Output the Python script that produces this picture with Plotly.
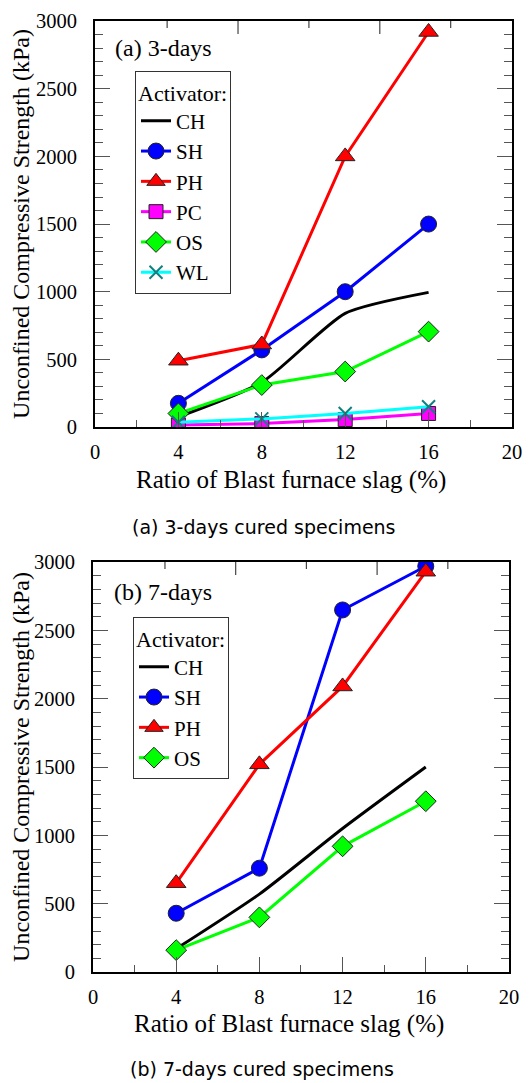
import plotly.graph_objects as go

# ---------------- data ----------------
slag = [4, 8, 12, 16]

# (a) 3-days
ch_3 = [75, 330, 840, 995]
sh_3 = [175, 570, 1000, 1500]
ph_3 = [490, 610, 2000, 2920]
pc_3 = [15, 25, 55, 100]
os_3 = [100, 310, 410, 705]
wl_3 = [35, 60, 100, 150]

# (b) 7-days
ch_7 = [170, 570, 1050, 1500]
sh_7 = [430, 760, 2650, 2970]
ph_7 = [650, 1520, 2090, 2930]
os_7 = [160, 400, 920, 1250]

# extra tick marks drawn along the top frame in the original figure
top_major = [6.86, 13.66]
top_minor = [3.46, 10.26, 17.06]

# page body has an 8px default margin: figure is placed at (8, 8)
OFF = 8
W, H = 532 - OFF, 1083 - OFF
SERIF = "Liberation Serif, Times New Roman, serif"

def px(x):
    return (x - OFF) / W

def py(y):
    return 1 - (y - OFF) / H

fig = go.Figure()

def add(x, y, name, color, symbol, xa, ya, legend, msize=15, mline="#222", spline=False, mlw=1):
    mode = "lines" if symbol is None else "lines+markers"
    fig.add_trace(go.Scatter(
        x=x, y=y, name=name, mode=mode, xaxis=xa, yaxis=ya, legend=legend,
        line=dict(color=color, width=3, shape="spline" if spline else "linear", smoothing=0.6),
        marker=dict(symbol=symbol or "circle", size=msize, color=color,
                    line=dict(color=mline, width=mlw)),
    ))

# top panel
add(slag, ch_3, "CH", "#000000", None, "x", "y", "legend", spline=True)
add(slag, sh_3, "SH", "#0000FF", "circle", "x", "y", "legend", msize=16)
add(slag, ph_3, "PH", "#FF0000", "triangle-up", "x", "y", "legend", msize=17)
add(slag, pc_3, "PC", "#FF00FF", "square", "x", "y", "legend", msize=14)
add(slag, os_3, "OS", "#00FF00", "diamond", "x", "y", "legend", msize=16)
add(slag, wl_3, "WL", "#00FFFF", "x-thin", "x", "y", "legend", msize=13, mline="#108080", mlw=2)

# bottom panel
add(slag, ch_7, "CH", "#000000", None, "x2", "y2", "legend2", spline=True)
add(slag, sh_7, "SH", "#0000FF", "circle", "x2", "y2", "legend2", msize=16)
add(slag, ph_7, "PH", "#FF0000", "triangle-up", "x2", "y2", "legend2", msize=17)
add(slag, os_7, "OS", "#00FF00", "diamond", "x2", "y2", "legend2", msize=16)

tickfont = dict(family=SERIF, size=20.5, color="#000")

def xaxis(domain, anchor):
    return dict(
        type="linear", domain=domain, anchor=anchor, range=[0, 20.001], tickmode="linear", tick0=0, dtick=4,
        ticks="inside", ticklen=15, tickwidth=1, tickcolor="#555",
        minor=dict(dtick=2, tick0=0, ticks="inside", ticklen=7, tickcolor="#555", tickwidth=1),
        showline=True, linecolor="#000", linewidth=2, mirror=True,
        showgrid=False, zeroline=False, tickfont=tickfont, automargin=False,
        ticklabelstandoff=5, ticklabeloverflow="allow",
    )

def yaxis(domain, anchor):
    return dict(
        type="linear", domain=domain, anchor=anchor, range=[0, 3001], tickmode="linear", tick0=0, dtick=500,
        ticks="inside", ticklen=15, tickwidth=1, tickcolor="#555",
        minor=dict(dtick=100, tick0=0, ticks="inside", ticklen=8, tickcolor="#555", tickwidth=1),
        showline=True, linecolor="#000", linewidth=2, mirror="ticks",
        showgrid=False, zeroline=False, tickfont=tickfont, automargin=False,
        ticklabelstandoff=12, ticklabeloverflow="allow",
        title=dict(text="Unconfined Compressive Strength (kPa)", font=dict(family=SERIF, size=24, color="#000"), standoff=5),
    )

xa1 = [px(95), px(512)]
ya1 = [py(427), py(21)]
xa2 = [px(93), px(509)]
ya2 = [py(972), py(562)]

# top-frame tick marks (axis decoration) placed through the x scale
shapes = []
for xr, yr, hpx in (("x", "y domain", 406), ("x2", "y2 domain", 410)):
    for vals, ln in ((top_major, 13), (top_minor, 7)):
        for v in vals:
            shapes.append(dict(type="line", xref=xr, yref=yr, x0=v, x1=v, y0=1, y1=1 - ln / hpx,
                               line=dict(color="#444", width=1.2), layer="above"))

legend_common = dict(
    bgcolor="#FFFFFF", bordercolor="#333", borderwidth=1,
    font=dict(family=SERIF, size=21, color="#000"),
    xanchor="left", yanchor="top", tracegroupgap=0,
)
ltitle = dict(text="Activator:", font=dict(family=SERIF, size=22, color="#000"))
capfont = dict(family="DejaVu Sans, sans-serif", size=19, color="#000")
panfont = dict(family=SERIF, size=24, color="#000")
xtfont = dict(family=SERIF, size=25, color="#000")

fig.update_layout(
    width=W, height=H, margin=dict(l=0, r=0, t=0, b=0, autoexpand=False),
    paper_bgcolor="#FFFFFF", plot_bgcolor="#FFFFFF",
    xaxis=xaxis(xa1, "y"), yaxis=yaxis(ya1, "x"),
    xaxis2=xaxis(xa2, "y2"), yaxis2=yaxis(ya2, "x2"),
    shapes=shapes,
    legend=dict(x=px(135), y=py(71), title=ltitle, **legend_common),
    legend2=dict(x=px(133), y=py(617), title=ltitle, **legend_common),
    showlegend=True,
    annotations=[
        dict(text="(a) 3-days", x=px(113), y=py(48), xref="paper", yref="paper",
             xanchor="left", yanchor="middle", showarrow=False, font=panfont),
        dict(text="(b) 7-days", x=px(112), y=py(592), xref="paper", yref="paper",
             xanchor="left", yanchor="middle", showarrow=False, font=panfont),
        dict(text="Ratio of Blast furnace slag (%)", x=px(291), y=py(480), xref="paper", yref="paper",
             xanchor="center", yanchor="middle", showarrow=False, font=xtfont),
        dict(text="Ratio of Blast furnace slag (%)", x=px(289), y=py(1024), xref="paper", yref="paper",
             xanchor="center", yanchor="middle", showarrow=False, font=xtfont),
        dict(text="(a) 3-days cured specimens", x=px(264), y=py(527), xref="paper", yref="paper",
             xanchor="center", yanchor="middle", showarrow=False, font=capfont),
        dict(text="(b) 7-days cured specimens", x=px(262), y=py(1069), xref="paper", yref="paper",
             xanchor="center", yanchor="middle", showarrow=False, font=capfont),
    ],
)

fig.write_html("out.html")
